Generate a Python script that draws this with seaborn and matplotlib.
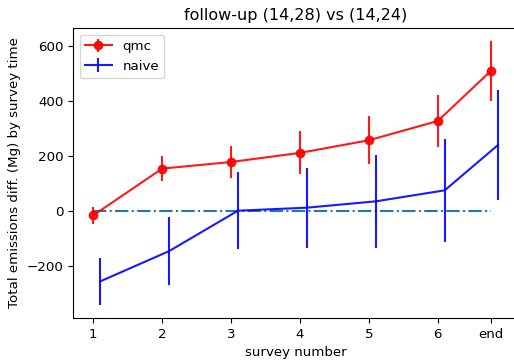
import matplotlib
matplotlib.use("Agg")
from matplotlib import pyplot as plt
import pandas as pd
import seaborn as sns

# survey positions ("end" sits a bit closer to 6 than a full step)
survey_pos = [1, 2, 3, 4, 5, 6, 6.77]
survey_labels = ["1", "2", "3", "4", "5", "6", "end"]
naive_shift = 0.1

qmc_mean = [-17, 153, 177, 210, 256, 326, 508]
qmc_err = [32, 45, 58, 78, 88, 93, 108]

naive_mean = [-257, -147, 0, 11, 34, 74, 238]
naive_err = [85, 123, 140, 145, 168, 188, 200]

df_qmc = pd.DataFrame({"x": survey_pos, "y": qmc_mean, "err": qmc_err})
df_naive = pd.DataFrame({"x": [p + naive_shift for p in survey_pos], "y": naive_mean, "err": naive_err})
df_zero = pd.DataFrame({"x": [survey_pos[0], survey_pos[-1]], "y": [0, 0]})

plt.rcParams["font.size"] = 9.6

fig = plt.figure(figsize=(5.14, 3.6), dpi=100)
ax = fig.add_axes([73 / 514, 1 - 318 / 360, 445 / 514, 290 / 360])

sns.lineplot(data=df_zero, x="x", y="y", ax=ax, color="C0", linestyle="-.", legend=False)
ax.errorbar(df_qmc["x"], df_qmc["y"], yerr=df_qmc["err"], color="r", marker="o", alpha=0.9, label="qmc")
ax.errorbar(df_naive["x"], df_naive["y"], yerr=df_naive["err"], color="b", alpha=0.9, label="naive")

ax.set_xticks(survey_pos)
ax.set_xticklabels(survey_labels)
ax.set_title("follow-up (14,28) vs (14,24)")
ax.set_xlabel("survey number")
ax.set_ylabel("Total emissions diff. (Mg) by survey time")
ax.legend(loc="upper left")

fig.savefig("out.png", dpi=100)
